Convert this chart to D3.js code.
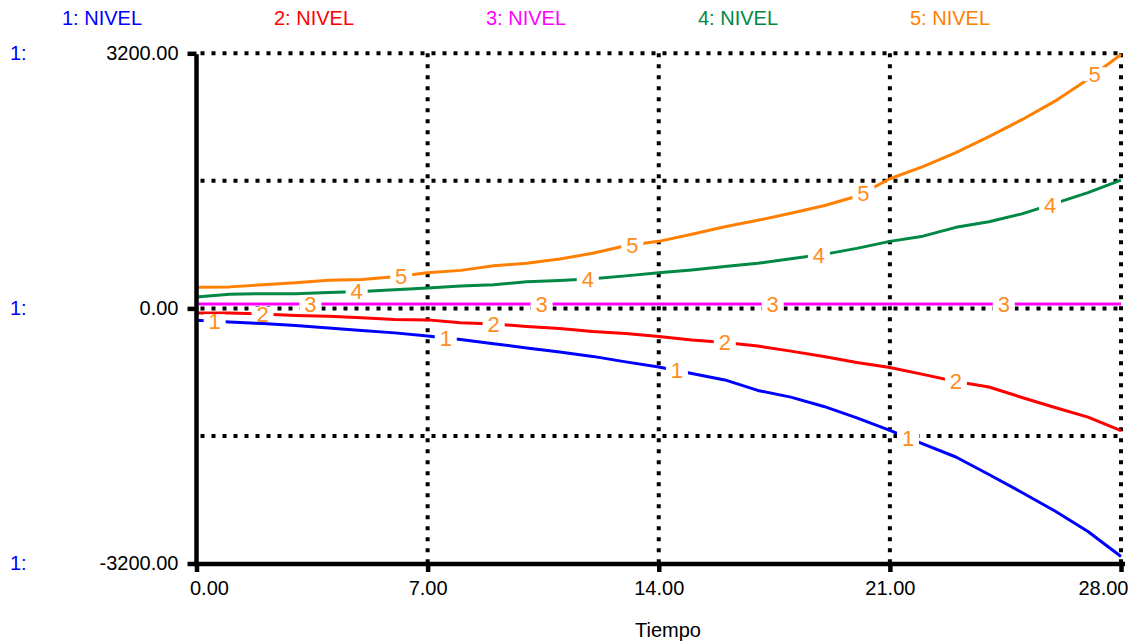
<!DOCTYPE html>
<html>
<head>
<meta charset="utf-8">
<script src="https://cdn.jsdelivr.net/npm/d3@7"></script>
<style>
  html, body { margin: 0; padding: 0; background: #fff; }
  svg { display: block; font-family: "Liberation Sans", Arial, sans-serif; }
</style>
</head>
<body>
<svg id="chart" width="1133" height="641"></svg>
<script>
// Simulation time axis (Tiempo)
const tiempo = d3.range(0, 29); // 0..28

// Five stock trajectories, one value per time unit
const nivel1 = [-150, -170, -190, -213, -245, -276, -307, -345, -390, -443, -496, -546, -602, -671, -734,
                -816, -897, -1029, -1113, -1230, -1374, -1531, -1700, -1864, -2083, -2309, -2541, -2799, -3112];
const nivel2 = [-59, -59, -69, -88, -100, -117, -138, -144, -180, -195, -226, -251, -289, -314, -352,
                -396, -427, -473, -536, -603, -678, -741, -828, -917, -986, -1117, -1243, -1364, -1532];
const nivel3 = [55, 55, 55, 55, 55, 55, 55, 55, 55, 55, 55, 55, 55, 55, 55,
                55, 55, 55, 55, 55, 55, 55, 55, 55, 55, 55, 55, 55, 55];
const nivel4 = [144, 176, 185, 185, 201, 213, 235, 257, 280, 297, 333, 351, 373, 408, 446,
                483, 527, 565, 624, 678, 753, 841, 906, 1017, 1086, 1186, 1318, 1453, 1608];
const nivel5 = [264, 270, 297, 323, 352, 364, 396, 446, 477, 534, 565, 619, 691, 785, 841,
                930, 1024, 1105, 1193, 1287, 1406, 1626, 1779, 1955, 2154, 2367, 2600, 2876, 3184];

const seriesNames = ["1: NIVEL", "2: NIVEL", "3: NIVEL", "4: NIVEL", "5: NIVEL"];
const seriesColors = ["#0000ff", "#ff0000", "#ff00ff", "#008844", "#ff8000"];
const seriesValues = [nivel1, nivel2, nivel3, nivel4, nivel5];
// first time at which each series carries its identifying number (repeats every 7)
const labelStart = [0.55, 2.0, 3.45, 4.85, 6.2];

const xTicks = [0, 7, 14, 21, 28];
const yTicks = [-3200, 0, 3200];
const yGrid = [-1600, 0, 1600, 3200];

const svg = d3.select("#chart");
const x = d3.scaleLinear().domain([0, 28]).range([196.5, 1121]);
const y = d3.scaleLinear().domain([-3200, 3200]).range([563.5, 53.3]);
const fmt = d => d.toFixed(2);
const labelColor = "#ff8c1c";

// dotted grid, including the top and right frame
const grid = svg.append("g")
  .attr("stroke", "#000").attr("stroke-width", 4).attr("stroke-dasharray", "4 7");
grid.selectAll("line.h").data(yGrid).join("line")
  .attr("class", "h")
  .attr("x1", x(0) + 4).attr("x2", x(28))
  .attr("y1", d => y(d)).attr("y2", d => y(d));
grid.selectAll("line.v").data([7, 14, 21, 28]).join("line")
  .attr("class", "v")
  .attr("x1", d => x(d)).attr("x2", d => x(d))
  .attr("y1", y(3200)).attr("y2", y(-3200));

// trajectories
const line = d3.line().x((d, i) => x(tiempo[i])).y(d => y(d));
svg.append("g").selectAll("path").data(seriesValues).join("path")
  .attr("d", d => line(d))
  .attr("fill", "none")
  .attr("stroke", (d, i) => seriesColors[i])
  .attr("stroke-width", 3)
  .attr("stroke-linejoin", "round");

// numbered markers along each trajectory
const interp = (vals, t) => {
  const i = Math.min(Math.floor(t), vals.length - 2);
  const f = t - i;
  return vals[i] * (1 - f) + vals[i + 1] * f;
};
const markers = [];
seriesValues.forEach((vals, s) => {
  for (let j = 0; j < 4; j++) {
    const t = labelStart[s] + 7 * j;
    if (t <= 28) markers.push({ s, t, v: interp(vals, t) });
  }
});
const mk = svg.append("g").selectAll("g").data(markers).join("g")
  .attr("transform", d => `translate(${x(d.t)},${y(d.v)})`);
mk.append("rect")
  .attr("x", -11).attr("y", -7).attr("width", 22).attr("height", 14)
  .attr("fill", "#fff");
mk.append("text")
  .attr("text-anchor", "middle")
  .attr("dy", "0.36em")
  .attr("font-size", 22)
  .attr("fill", labelColor)
  .text(d => String(d.s + 1));

// axes
const yAxis = d3.axisLeft(y).tickValues(yTicks).tickFormat(fmt)
  .tickSizeInner(9).tickSizeOuter(0).tickPadding(9);
const gy = svg.append("g").attr("transform", `translate(${x(0)},0)`).call(yAxis);
gy.select(".domain").attr("stroke-width", 4.5).attr("d", `M0,${y(3200) + 1}V${y(-3200) + 2.5}`);
gy.selectAll(".tick line").attr("stroke-width", 4.5);
gy.selectAll(".tick text").attr("font-size", 20).attr("fill", "#000")
  .attr("font-family", "Liberation Sans, Arial, sans-serif");

const xAxis = d3.axisBottom(x).tickValues(xTicks).tickFormat(fmt)
  .tickSizeInner(8).tickSizeOuter(0).tickPadding(9);
const gx = svg.append("g").attr("transform", `translate(0,${y(-3200) + 0.5})`).call(xAxis);
gx.select(".domain").attr("stroke-width", 4.5).attr("d", `M${x(0) - 2.5},0H${x(28) + 4}`);
gx.selectAll(".tick line").attr("stroke-width", 4.5);
gx.selectAll(".tick text").attr("font-size", 20).attr("fill", "#000")
  .attr("font-family", "Liberation Sans, Arial, sans-serif");
// keep the end labels inside the frame
gx.selectAll(".tick text").filter(d => d === 0).attr("text-anchor", "start").attr("x", -7);
gx.selectAll(".tick text").filter(d => d === 28).attr("text-anchor", "end").attr("x", 7);

// scale owner tags on the left
svg.append("g").selectAll("text").data(yTicks).join("text")
  .attr("x", 10).attr("y", d => y(d)).attr("dy", "0.32em")
  .attr("font-size", 20).attr("fill", seriesColors[0])
  .text("1:");

// x axis title
svg.append("text")
  .attr("x", 668).attr("y", 637)
  .attr("text-anchor", "middle").attr("font-size", 20).attr("fill", "#000")
  .text("Tiempo");

// legend
svg.append("g").selectAll("text").data(seriesNames).join("text")
  .attr("x", (d, i) => 62 + i * 212).attr("y", 25)
  .attr("font-size", 20)
  .attr("fill", (d, i) => seriesColors[i])
  .text(d => d);
</script>
</body>
</html>
